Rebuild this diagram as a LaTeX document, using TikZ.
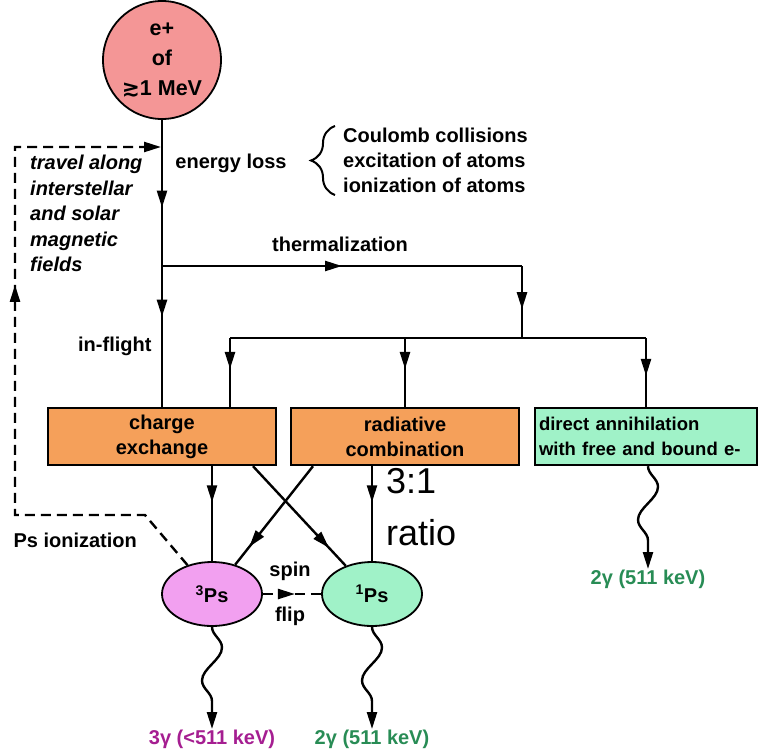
\documentclass[tikz,border=0pt]{standalone}
\usepackage{fontspec}
\setmainfont{Liberation Sans}
\newfontfamily\symfont{DejaVu Sans}
\usepackage{xcolor}
\usetikzlibrary{arrows.meta,decorations.markings,decorations.pathmorphing,decorations.pathreplacing,shapes.geometric}
\definecolor{posred}{RGB}{244,150,150}
\definecolor{procorange}{RGB}{245,160,90}
\definecolor{annigreen}{RGB}{160,242,200}
\definecolor{orthoviolet}{RGB}{242,160,240}
\definecolor{gammapurple}{RGB}{165,30,145}
\definecolor{gammagreen}{RGB}{40,140,85}

\begin{document}
\begin{tikzpicture}[
    x=1pt,
    y=-1pt,
    >={Triangle[length=17pt,width=10pt]},
    every node/.style={font=\fontsize{20}{25}\selectfont\bfseries},
    flow/.style={line width=2.4pt},
    dashflow/.style={line width=2.4pt, dash pattern=on 10pt off 6pt},
    midtip/.style={postaction={decorate}, decoration={markings, mark=at position #1 with {\arrow{>}}}},
    procbox/.style={rectangle, draw, line width=2.4pt, fill=procorange, minimum width=228, minimum height=57, align=center, inner sep=2pt},
    psnode/.style={ellipse, draw, line width=1.8pt, minimum width=100, minimum height=64, inner sep=0pt},
    wavy/.style={line width=2.4pt, ->, decorate, decoration={snake, amplitude=10pt, segment length=66pt, pre length=0pt, post length=24pt}},
    gammalabel/.style={anchor=north, inner sep=1pt},
    note/.style={align=left, inner sep=0pt}
  ]
  \useasboundingbox (0,0) rectangle (759,754);
  %
  \node[circle, draw, line width=1.8pt, fill=posred, minimum size=118, align=center, inner sep=0pt, font=\fontsize{21.5}{30}\selectfont\bfseries] (pos) at (162,60) {e+\\of\\{\symfont ≳}1 MeV};

  \node[procbox] (cex) at (162,436.5) {charge\\exchange};
  \node[procbox] (rc) at (405,436.5) {radiative\\combination};
  \node[procbox, fill=annigreen, minimum width=222, align=left, text width=214, font=\fontsize{18.5}{25}\selectfont\bfseries] (da) at (646,436.5) {direct annihilation\\with free and bound e-};

  \node[psnode, fill=orthoviolet] (tPs) at (212,594) {\textsuperscript{3}Ps};
  \node[psnode, fill=annigreen] (sPs) at (372,594) {\textsuperscript{1}Ps};

  %
  \coordinate (eloss) at (162,147);
  \coordinate (therm) at (162,266);
  \coordinate (thermR) at (522,266);
  \coordinate (split) at (522,338);
  \coordinate (splitL) at (230,338);
  \coordinate (splitR) at (646,338);
  \coordinate (loopA) at (15,147);
  \coordinate (loopB) at (15,515);
  \coordinate (loopC) at (145,515);

  \draw[flow, midtip=0.6] (pos) -- (therm);
  \draw[flow, midtip=0.36] (therm) -- (cex.north);
  \draw[flow, midtip=0.5] (therm) -- (thermR);
  \draw[flow, midtip=0.6] (thermR) -- (split);
  \draw[flow] (splitL) -- (splitR);
  \draw[flow, midtip=0.45] (splitL) -- (splitL |- cex.north);
  \draw[flow, midtip=0.45] (rc.north |- splitL) -- (rc.north);
  \draw[flow, midtip=0.55] (splitR) -- (da.north);

  %
  \draw[flow, midtip=0.38] (cex.south -| tPs.north) -- (tPs.north);
  \draw[flow, midtip=0.38] (rc.south -| sPs.north) -- (sPs.north);
  \draw[flow, midtip=0.82] ([xshift=-92]rc.south) -- (tPs);
  \draw[flow, midtip=0.82] ([xshift=91]cex.south) -- (sPs);
  \draw[dashflow, midtip=0.55] (tPs.east) -- (sPs.west);

  %
  \draw[dashflow, ->, midtip=0.6] (tPs) -- (loopC) -- (loopB) -- (loopA) -- ([xshift=-1]eloss);

  %
  \node[gammalabel, text=gammapurple] (tgam) at (212,729) {3γ (<511 keV)};
  \node[gammalabel, text=gammagreen] (sgam) at (372,729) {2γ (511 keV)};
  \node[gammalabel, text=gammagreen] (dgam) at (648,569) {2γ (511 keV)};
  \draw[wavy] (tPs.south) -- (tgam.north);
  \draw[wavy] (sPs.south) -- (sgam.north);
  \draw[wavy] ([xshift=2]da.south) -- (dgam.north);

  %
  \node[note, font=\fontsize{20}{25.5}\selectfont\bfseries\itshape, anchor=north west] (travel) at (30,155) {travel along\\interstellar\\and solar\\magnetic\\fields};
  \node (elabel) at (231,163) {energy loss};
  \node[note, anchor=west] (causes) at (343,160) {Coulomb collisions\\excitation of atoms\\ionization of atoms};
  \draw[line width=2pt, decorate, decoration={brace, amplitude=24pt, aspect=0.5}] (335,195) -- (335,126);
  \node (thlabel) at (340,244) {thermalization};
  \node[anchor=east] (flight) at (155,346) {in-flight};
  \node[note, font=\fontsize{36}{52}\selectfont, anchor=north west] (ratio) at (386,468) {3:1\\ratio};
  \node (spin) at (290,571) {spin};
  \node (flip) at (290,616) {flip};
  \node[anchor=west] (psion) at (10,540) {Ps ionization};
\end{tikzpicture}
\end{document}
